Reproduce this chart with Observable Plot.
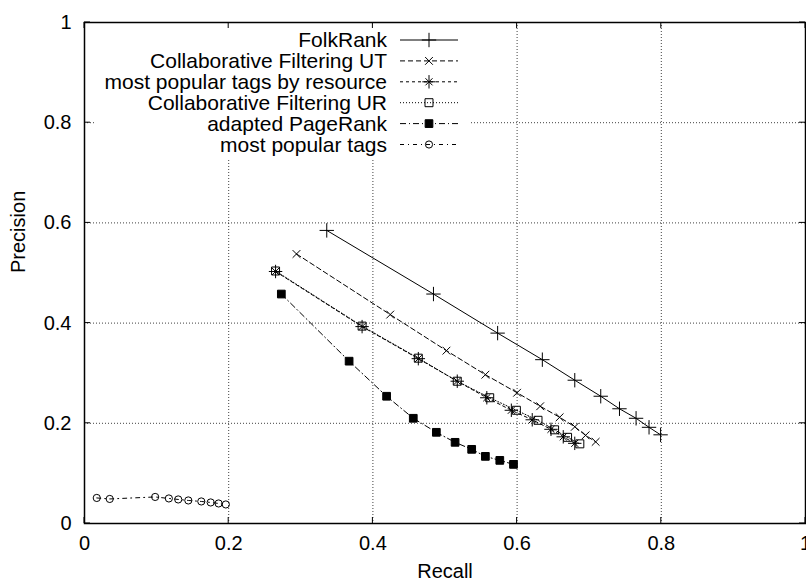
<!DOCTYPE html>
<html><head><meta charset="utf-8">
<script src="https://cdn.jsdelivr.net/npm/d3@7"></script>
<script src="https://cdn.jsdelivr.net/npm/@observablehq/plot@0.6"></script>
<style>
html,body{margin:0;padding:0;background:#fff;overflow:hidden}
svg{font-family:"Liberation Sans",Arial,Helvetica,sans-serif}
</style>
</head><body><div id="chart"></div>
<script>
// ---- data ----
const seriesNames = ["FolkRank","Collaborative Filtering UT","most popular tags by resource","Collaborative Filtering UR","adapted PageRank","most popular tags"];

const folkRankRecall    = [0.336,0.484,0.573,0.635,0.680,0.716,0.742,0.765,0.783,0.799];
const folkRankPrecision = [0.585,0.458,0.380,0.327,0.286,0.254,0.229,0.210,0.192,0.177];

const cfUTRecall    = [0.294,0.424,0.502,0.556,0.600,0.632,0.659,0.680,0.695,0.709];
const cfUTPrecision = [0.538,0.417,0.345,0.297,0.261,0.234,0.212,0.193,0.176,0.163];

const mpResRecall    = [0.265,0.385,0.463,0.517,0.558,0.592,0.621,0.647,0.664,0.680];
const mpResPrecision = [0.503,0.393,0.329,0.284,0.251,0.226,0.207,0.188,0.173,0.160];

const cfURRecall    = [0.265,0.385,0.463,0.517,0.562,0.599,0.629,0.652,0.670,0.687];
const cfURPrecision = [0.504,0.394,0.330,0.284,0.251,0.226,0.206,0.187,0.172,0.159];

const aprRecall    = [0.273,0.367,0.419,0.456,0.488,0.514,0.537,0.556,0.576,0.595];
const aprPrecision = [0.458,0.324,0.254,0.210,0.182,0.162,0.148,0.134,0.126,0.118];

const mpRecall    = [0.017,0.035,0.098,0.117,0.130,0.144,0.162,0.175,0.186,0.196];
const mpPrecision = [0.051,0.049,0.053,0.050,0.048,0.046,0.044,0.042,0.040,0.038];

const xTicks = [0,0.2,0.4,0.6,0.8,1];
const yTicks = [0,0.2,0.4,0.6,0.8,1];
const gridTicks = [0.2,0.4,0.6,0.8];

// ---- build table ----
const recalls = [folkRankRecall,cfUTRecall,mpResRecall,cfURRecall,aprRecall,mpRecall];
const precisions = [folkRankPrecision,cfUTPrecision,mpResPrecision,cfURPrecision,aprPrecision,mpPrecision];
const rows = seriesNames.map((s,i)=>recalls[i].map((r,j)=>({series:s, recall:r, precision:precisions[i][j]})));

// styles
const dashes = [null,"5,3","3,3","1,2","6,3,1,3","4,4,1,4"];
const symbolSpecs = [
  [{symbol:"plus", r:4.7, fill:"none"}],
  [{symbol:"times", r:3.6, fill:"none"}],
  [{symbol:"plus", r:4.4, fill:"none"},{symbol:"times", r:3.3, fill:"none"}],
  [{symbol:"square", r:4.5, fill:"none"}],
  [{symbol:"square", r:4.35, fill:"black"}],
  [{symbol:"circle", r:3.6, fill:"none"}]
];
const font = 20;
const legendFont = 21;
const fmt = d => d3.format("~g")(d);

const lineMarks = rows.map((d,i)=>Plot.line(d,{x:"recall",y:"precision",stroke:"black",strokeWidth:1,strokeDasharray:dashes[i]}));
const dotMarks = rows.flatMap((d,i)=>symbolSpecs[i].map(sp=>Plot.dot(d,{x:"recall",y:"precision",symbol:()=>sp.symbol,r:sp.r,stroke:"black",strokeWidth:1,fill:sp.fill})));

const d3Sym = {plus:d3.symbolPlus, times:d3.symbolTimes, square:d3.symbolSquare, circle:d3.symbolCircle};

function legendMark(){
  const g = d3.create("svg:g");
  g.append("rect").attr("x",96).attr("y",23).attr("width",374).attr("height",135).attr("fill","white");
  seriesNames.forEach((name,i)=>{
    const y = 40 + i*20.9;
    g.append("text").attr("x",387).attr("y",y).attr("text-anchor","end").attr("dy","0.35em")
      .attr("font-size",legendFont).attr("fill","black").text(name);
    const ln = g.append("line").attr("x1",400).attr("x2",458).attr("y1",y).attr("y2",y)
      .attr("stroke","black").attr("stroke-width",1);
    if (dashes[i]) ln.attr("stroke-dasharray",dashes[i]);
    symbolSpecs[i].forEach(sp=>{
      g.append("path").attr("transform",`translate(429,${y})`)
        .attr("d", d3.symbol(d3Sym[sp.symbol], Math.PI*sp.r*sp.r)())
        .attr("fill", sp.fill).attr("stroke","black").attr("stroke-width",1);
    });
  });
  return g.node();
}

function ticksMark(index, scales){
  const g = d3.create("svg:g").attr("stroke","black").attr("stroke-width",1);
  const [x0,x1] = [scales.x(0), scales.x(1)];
  const [yb,yt] = [scales.y(0), scales.y(1)];
  const L = 6;
  xTicks.forEach(t=>{
    const x = scales.x(t);
    g.append("line").attr("x1",x).attr("x2",x).attr("y1",yb).attr("y2",yb-L);
    g.append("line").attr("x1",x).attr("x2",x).attr("y1",yt).attr("y2",yt+L);
  });
  yTicks.forEach(t=>{
    const y = scales.y(t);
    g.append("line").attr("x1",x0).attr("x2",x0+L).attr("y1",y).attr("y2",y);
    g.append("line").attr("x1",x1).attr("x2",x1-L).attr("y1",y).attr("y2",y);
  });
  return g.node();
}

const chart = Plot.plot({
  width: 806,
  height: 583,
  marginLeft: 84,
  marginRight: 1,
  marginTop: 22,
  marginBottom: 60,
  style: {fontSize: font+"px", fontFamily: '"Liberation Sans",Arial,sans-serif', background:"white", overflow:"visible"},
  x: {domain:[0,1], label:null},
  y: {domain:[0,1], label:null},
  marks: [
    Plot.gridX(gridTicks,{stroke:"black",strokeOpacity:0.75,strokeDasharray:"1,2"}),
    Plot.gridY(gridTicks,{stroke:"black",strokeOpacity:0.75,strokeDasharray:"1,2"}),
    legendMark,
    ...lineMarks,
    ...dotMarks,
    ticksMark,
    Plot.frame({stroke:"black",strokeWidth:1.5}),
    Plot.axisX(xTicks,{anchor:"bottom",tickSize:0,tickPadding:12,fontSize:font,tickFormat:fmt,label:null}),
    Plot.axisY(yTicks,{anchor:"left",tickSize:0,tickPadding:13,fontSize:font,tickFormat:fmt,label:null}),
    Plot.text(["Recall"],{frameAnchor:"bottom",dy:54,fontSize:font,text:d=>d}),
    Plot.text(["Precision"],{frameAnchor:"left",dx:-66,rotate:-90,fontSize:font,text:d=>d})
  ]
});
document.getElementById("chart").appendChild(chart);
</script>
</body></html>
